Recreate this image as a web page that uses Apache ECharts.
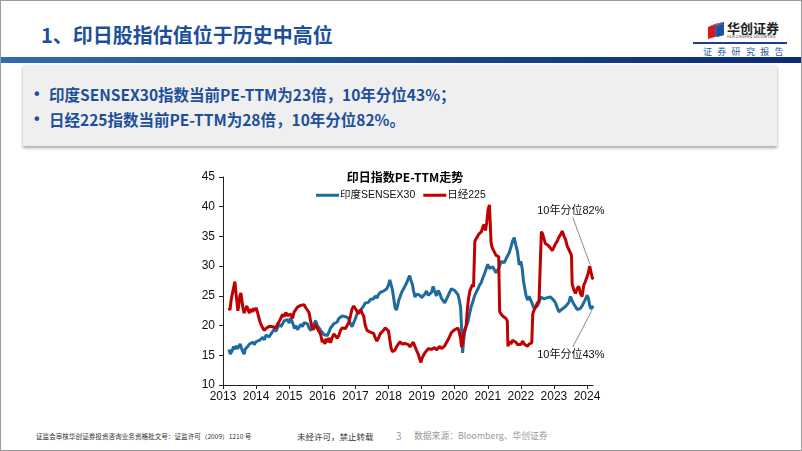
<!DOCTYPE html>
<html><head><meta charset="utf-8">
<script src="https://cdn.jsdelivr.net/npm/echarts@6/dist/echarts.min.js"></script>
<style>
body{margin:0;background:#fff;}
#slide{position:relative;width:802px;height:451px;overflow:hidden;background:#fff;font-family:"Noto Sans CJK SC","Noto Sans",sans-serif;}
.abs{position:absolute;white-space:nowrap;}
#title{left:41px;top:21px;font-size:20px;font-weight:bold;color:#1d4f9b;line-height:28px;}
#bar{left:0;top:57px;width:802px;height:6px;background:linear-gradient(90deg,#2f6db3 0%,#1a4b98 45%,#0c2a78 100%);}
#box{left:23px;top:65px;width:754px;height:81px;background:#efefef;box-shadow:0 2px 3px rgba(0,0,0,0.35);}
.bl{font-size:15.5px;font-weight:bold;color:#1d4f9b;line-height:20px;}
.dot{font-size:16px;color:#1d4f9b;font-weight:bold;line-height:20px;font-family:"Liberation Sans",Arial,sans-serif;}
#chart{position:absolute;left:0;top:0;width:802px;height:451px;}
#frame{position:absolute;left:0;top:0;width:800px;height:449px;border:1px solid #9a9a9a;pointer-events:none;}
.foot{color:#333;line-height:10px;}
</style></head>
<body>
<div id="slide">
  <div class="abs" id="title">1、印日股指估值位于历史中高位</div>
  <div class="abs" id="bar"></div>
  <div class="abs" id="box"></div>
  <div class="abs dot" style="left:34px;top:84px;">•</div>
  <div class="abs bl" style="left:49px;top:84px;">印度SENSEX30指数当前PE-TTM为23倍，10年分位43%；</div>
  <div class="abs dot" style="left:34px;top:109px;">•</div>
  <div class="abs bl" style="left:49px;top:109px;">日经225指数当前PE-TTM为28倍，10年分位82%。</div>
  <svg class="abs" style="left:706px;top:20px;" width="22" height="20" viewBox="0 0 22 20">
    <polygon points="2,7 9,4 9,17 2,19" fill="#d7191f"/>
    <polygon points="9,4 18,2 18,15 9,17" fill="#2a5fb0"/>
    <polygon points="2,7 9,4 18,2 11,5" fill="#e8454a"/>
    <polygon points="11,7 18,5 18,15 11,17" fill="#1d4f9b"/>
  </svg>
  <div class="abs" style="left:727px;top:21px;font-size:13px;font-weight:bold;color:#222;line-height:14px;">华创证券</div>
  <div class="abs" style="left:727px;top:34px;font-size:4px;color:#333;line-height:4px;">HUA CHUANG SECURITIES</div>
  <div class="abs" style="left:693px;top:42px;width:94px;height:2px;background:#1d3f8a;"></div>
  <div class="abs" style="left:703px;top:46px;font-size:9px;color:#2d5aa0;letter-spacing:5.3px;line-height:12px;">证券研究报告</div>
  <div class="abs foot" style="left:36px;top:431px;font-size:6.6px;">证监会审核华创证券投资咨询业务资格批文号：证监许可（2009）1210 号</div>
  <div class="abs foot" style="left:297px;top:431px;font-size:8.5px;">未经许可，禁止转载</div>
  <div class="abs" style="left:396px;top:430px;font-size:10px;color:#999;line-height:12px;">3</div>
  <div class="abs" style="left:414px;top:430px;font-size:8.8px;color:#999;line-height:12px;">数据来源：Bloomberg、华创证券</div>
  <div id="chart"></div>
  <div id="frame"></div>
</div>
<script>
// ---- data (decimal year, PE-TTM) ----
const yearTicks = [2013,2014,2015,2016,2017,2018,2019,2020,2021,2022,2023,2024];
const sensexT = [2013.18,2013.22,2013.25,2013.28,2013.32,2013.36,2013.40,2013.44,2013.48,2013.52,2013.56,2013.60,2013.64,2013.67,2013.71,2013.75,2013.80,2013.85,2013.90,2013.95,
2014.00,2014.05,2014.10,2014.15,2014.20,2014.25,2014.30,2014.35,2014.40,2014.45,2014.50,2014.55,2014.60,2014.65,2014.70,2014.75,2014.80,2014.85,2014.90,2014.95,
2015.00,2015.04,2015.08,2015.12,2015.16,2015.20,2015.25,2015.30,2015.35,2015.40,2015.45,2015.50,2015.55,2015.60,2015.65,2015.70,2015.75,2015.80,2015.85,2015.90,2015.95,
2016.00,2016.05,2016.10,2016.15,2016.20,2016.25,2016.30,2016.35,2016.40,2016.45,2016.50,2016.55,2016.60,2016.65,2016.70,2016.75,2016.80,2016.85,2016.90,2016.95,
2017.00,2017.05,2017.10,2017.15,2017.20,2017.25,2017.30,2017.35,2017.40,2017.45,2017.50,2017.55,2017.60,2017.65,2017.70,2017.75,2017.80,2017.85,2017.90,2017.95,
2018.00,2018.04,2018.08,2018.12,2018.16,2018.20,2018.24,2018.28,2018.32,2018.36,2018.40,2018.45,2018.50,2018.55,2018.60,2018.64,2018.68,2018.72,2018.76,2018.80,2018.85,2018.90,2018.95,
2019.00,2019.05,2019.10,2019.15,2019.20,2019.25,2019.30,2019.35,2019.40,2019.45,2019.50,2019.55,2019.60,2019.65,2019.70,2019.75,2019.80,2019.85,2019.90,2019.95,
2020.00,2020.05,2020.10,2020.14,2020.18,2020.21,2020.24,2020.27,2020.30,2020.35,2020.40,2020.45,2020.50,2020.55,2020.60,2020.65,2020.70,2020.75,2020.80,2020.85,2020.90,2020.95,
2021.00,2021.05,2021.10,2021.15,2021.20,2021.25,2021.30,2021.35,2021.40,2021.45,2021.50,2021.55,2021.60,2021.65,2021.70,2021.75,2021.80,2021.85,2021.90,2021.95,
2022.00,2022.04,2022.08,2022.12,2022.16,2022.20,2022.25,2022.30,2022.35,2022.40,2022.45,2022.50,2022.55,2022.60,2022.65,2022.70,2022.75,2022.80,2022.85,2022.90,2022.95,
2023.00,2023.05,2023.10,2023.15,2023.20,2023.25,2023.30,2023.35,2023.40,2023.45,2023.50,2023.55,2023.60,2023.65,2023.70,2023.75,2023.80,2023.85,2023.90,2023.95,
2024.00,2024.04,2024.08,2024.12,2024.16,2024.19];
const sensexV = [16.0,15.2,14.9,15.8,16.5,16.0,16.6,16.1,16.4,16.9,16.2,15.6,15.2,16.0,15.7,16.5,16.9,16.6,17.2,16.8,
17.3,17.0,17.5,17.2,18.0,17.6,18.4,18.7,18.1,18.6,19.0,19.4,19.0,19.7,20.2,19.8,20.3,20.8,20.5,21.0,
20.4,21.3,20.8,20.2,19.5,20.0,19.3,19.6,20.2,19.8,20.5,20.8,20.3,19.6,19.2,19.6,20.3,20.8,20.0,19.6,19.2,
19.0,18.5,18.8,18.3,18.9,19.6,19.8,20.3,20.0,20.6,21.2,21.0,21.6,21.9,21.5,21.8,21.2,20.3,19.8,20.5,
21.2,22.0,21.8,22.5,22.8,23.3,23.8,24.1,23.9,24.4,24.7,24.5,25.0,24.6,25.2,25.6,25.3,25.8,25.5,26.2,
26.8,27.7,26.9,26.0,24.5,23.0,22.6,23.5,24.4,25.0,25.6,26.1,26.3,27.2,27.9,28.4,27.6,27.0,25.8,24.8,25.3,25.6,25.1,
24.7,24.6,25.3,25.8,25.1,24.9,25.6,26.6,25.7,25.0,25.9,25.4,24.6,24.2,23.8,24.4,25.0,25.3,26.2,26.4,
25.9,26.1,25.2,24.3,23.0,19.5,15.4,17.5,18.8,20.0,20.6,22.0,23.2,24.0,25.0,25.6,26.1,26.8,27.2,28.0,28.7,29.5,
30.3,29.6,29.3,29.9,29.6,28.9,28.6,29.8,30.8,31.0,30.6,31.2,31.5,32.3,33.2,34.2,34.8,33.5,32.4,30.2,
30.8,29.6,27.5,26.2,25.0,24.3,24.9,24.6,23.6,22.9,22.6,23.3,23.9,24.8,25.0,24.5,24.2,24.7,24.4,24.8,24.9,
24.2,23.8,23.0,22.3,22.1,22.8,22.6,23.2,23.5,23.9,24.9,24.2,23.6,23.2,22.7,22.4,22.9,23.3,23.1,24.4,
25.1,24.6,23.4,22.8,23.1,23.3];
const nikkeiT = [2013.18,2013.21,2013.24,2013.27,2013.30,2013.33,2013.36,2013.39,2013.42,2013.45,2013.48,2013.51,2013.54,2013.57,2013.60,2013.64,2013.68,2013.72,2013.76,2013.80,2013.84,2013.88,2013.92,2013.96,
2014.00,2014.04,2014.08,2014.12,2014.16,2014.20,2014.24,2014.28,2014.32,2014.36,2014.40,2014.45,2014.50,2014.55,2014.60,2014.65,2014.70,2014.75,2014.80,2014.85,2014.90,2014.95,
2015.00,2015.05,2015.10,2015.15,2015.20,2015.25,2015.30,2015.35,2015.40,2015.45,2015.50,2015.55,2015.60,2015.64,2015.68,2015.72,2015.76,2015.80,2015.85,2015.90,2015.95,
2016.00,2016.04,2016.08,2016.12,2016.16,2016.20,2016.25,2016.30,2016.35,2016.40,2016.45,2016.50,2016.55,2016.60,2016.65,2016.70,2016.75,2016.80,2016.85,2016.90,2016.95,
2017.00,2017.05,2017.10,2017.15,2017.20,2017.25,2017.30,2017.35,2017.40,2017.45,2017.50,2017.55,2017.60,2017.65,2017.70,2017.75,2017.80,2017.85,2017.90,2017.95,
2018.00,2018.04,2018.08,2018.12,2018.16,2018.20,2018.25,2018.30,2018.35,2018.40,2018.45,2018.50,2018.55,2018.60,2018.65,2018.70,2018.75,2018.80,2018.85,2018.90,2018.94,2018.98,
2019.02,2019.06,2019.10,2019.15,2019.20,2019.25,2019.30,2019.35,2019.40,2019.45,2019.50,2019.55,2019.60,2019.65,2019.70,2019.75,2019.80,2019.85,2019.90,2019.95,
2020.00,2020.05,2020.10,2020.14,2020.18,2020.21,2020.24,2020.27,2020.31,2020.35,2020.38,2020.42,2020.46,2020.50,2020.54,2020.57,2020.59,2020.61,2020.65,2020.69,2020.73,2020.77,2020.81,2020.85,2020.89,2020.93,2020.97,
2021.01,2021.05,2021.08,2021.10,2021.13,2021.17,2021.21,2021.25,2021.29,2021.33,2021.36,2021.40,2021.45,2021.50,2021.55,2021.59,2021.61,2021.65,2021.70,2021.75,2021.80,2021.85,2021.90,2021.95,
2022.00,2022.05,2022.10,2022.15,2022.20,2022.25,2022.30,2022.33,2022.36,2022.40,2022.45,2022.50,2022.55,2022.60,2022.62,2022.66,2022.70,2022.74,2022.78,2022.82,2022.86,2022.90,2022.95,
2023.00,2023.05,2023.10,2023.15,2023.20,2023.25,2023.30,2023.35,2023.40,2023.45,2023.50,2023.53,2023.55,2023.60,2023.65,2023.70,2023.75,2023.80,2023.85,2023.90,2023.95,
2024.00,2024.04,2024.08,2024.12,2024.16,2024.19];
const nikkeiV = [23.0,22.6,24.0,25.0,25.8,26.6,27.4,25.6,24.0,22.5,23.6,25.0,25.5,24.3,23.0,22.1,22.8,23.3,22.6,22.1,22.8,22.3,22.9,22.5,
23.0,22.3,21.4,20.6,20.0,19.8,19.2,19.0,19.6,19.3,19.9,20.2,19.8,20.1,19.6,20.3,20.7,21.3,21.9,21.5,22.2,21.7,
21.4,21.9,21.2,22.3,22.7,23.1,22.8,23.4,23.1,23.5,23.0,23.3,22.2,21.0,19.9,19.3,19.7,20.2,19.5,19.2,18.5,
17.2,17.6,16.9,17.8,17.2,17.9,17.1,18.0,18.6,18.9,17.9,18.3,19.2,19.6,19.9,19.5,20.0,20.5,21.6,22.8,23.3,
23.5,22.4,22.0,22.7,22.4,21.6,20.0,19.2,19.0,18.9,19.2,18.7,17.9,17.4,17.9,18.6,18.8,19.2,19.6,19.8,
19.1,17.6,16.2,15.6,15.4,15.9,16.5,16.9,17.3,16.9,16.6,17.0,17.2,16.8,16.4,16.7,17.2,16.9,15.8,15.2,14.4,13.8,
14.6,15.0,15.4,15.7,16.1,15.8,16.0,15.9,16.3,15.9,16.2,16.5,16.1,16.3,16.6,16.9,17.6,18.2,18.8,19.1,
19.3,19.2,19.6,18.9,17.8,16.4,17.0,18.6,19.4,20.0,22.5,24.6,25.8,26.4,26.9,26.5,26.7,34.2,34.6,35.0,35.4,35.2,35.8,36.6,37.0,36.0,37.4,
39.5,40.3,40.6,34.0,33.2,32.7,32.9,31.8,32.0,31.6,22.3,22.0,21.6,21.8,21.2,20.8,16.5,17.3,16.9,17.5,17.8,17.2,16.8,17.1,
16.8,17.4,16.9,17.2,16.5,16.9,16.6,17.1,22.0,22.6,23.2,23.8,24.2,24.0,35.8,35.4,34.6,33.8,34.0,33.5,33.2,33.0,32.6,
33.2,33.8,34.2,34.9,35.3,35.9,35.1,34.5,33.4,32.8,32.2,31.8,27.0,26.0,25.4,26.2,26.6,25.4,24.9,26.8,27.4,
28.2,28.9,30.0,29.0,28.0,27.8];
const seriesNames = ['印度SENSEX30','日经225'];
const yMin = 10, yMax = 45, yStep = 5;
const xMin = 2013, xMax = 2024.18;

const zip = (t, v) => t.map((x, i) => [x, v[i]]);
const font = '"Liberation Sans", Arial, "Noto Sans CJK SC", sans-serif';
const cjk = '"Noto Sans CJK SC", "Liberation Sans", sans-serif';
const chart = echarts.init(document.getElementById('chart'), null, {renderer:'canvas'});
const axisCommon = {
  axisLine:{show:true,lineStyle:{color:'#222',width:1}},
  axisTick:{show:true,inside:false,length:4,lineStyle:{color:'#222'}},
  splitLine:{show:false},
  axisLabel:{color:'#111',fontSize:12,fontFamily:font}
};
chart.setOption({
  animation:false,
  backgroundColor:'transparent',
  title:{text:'印日指数PE-TTM走势',left:400,textAlign:'center',top:166,
    textStyle:{fontSize:12,fontWeight:'bold',color:'#000',fontFamily:cjk}},
  legend:{top:185,left:311,itemWidth:23,itemHeight:3,itemGap:8,icon:'rect',
    textStyle:{fontSize:10.5,color:'#111',fontFamily:font,padding:[0,0,0,-4]},
    data:seriesNames},
  grid:{left:223,right:209,top:177,bottom:66},
  xAxis:Object.assign({},axisCommon,{type:'value',min:xMin,max:xMax,
    axisLabel:Object.assign({},axisCommon.axisLabel,{customValues:yearTicks,margin:6,formatter:v=>String(Math.round(v))}),
    axisTick:Object.assign({},axisCommon.axisTick,{customValues:yearTicks})}),
  yAxis:Object.assign({},axisCommon,{type:'value',min:yMin,max:yMax,interval:yStep,
    axisLabel:Object.assign({},axisCommon.axisLabel,{margin:8})}),
  series:[
    {name:seriesNames[0],type:'line',data:zip(sensexT,sensexV),showSymbol:false,symbol:'none',
     lineStyle:{color:'#1f6a9e',width:3},itemStyle:{color:'#1f6a9e'},
     markLine:{silent:true,symbol:['none','none'],label:{show:false},lineStyle:{color:'#8a8a8a',width:1,type:'solid'},
       data:[[{coord:[2024.15,22.6]},{coord:[2023.57,16.4]}]]},
     markPoint:{silent:true,symbol:'rect',symbolSize:1,itemStyle:{color:'rgba(0,0,0,0)'},
       label:{show:true,position:'inside',formatter:'10年分位43%',color:'#111',fontSize:11,fontFamily:font},
       data:[{coord:[2023.51,15.0]}]}},
    {name:seriesNames[1],type:'line',data:zip(nikkeiT,nikkeiV),showSymbol:false,symbol:'none',
     lineStyle:{color:'#c00000',width:3},itemStyle:{color:'#c00000'},
     markLine:{silent:true,symbol:['none','none'],label:{show:false},lineStyle:{color:'#8a8a8a',width:1,type:'solid'},
       data:[[{coord:[2023.57,38.2]},{coord:[2024.09,30.3]}]]},
     markPoint:{silent:true,symbol:'rect',symbolSize:1,itemStyle:{color:'rgba(0,0,0,0)'},
       label:{show:true,position:'inside',formatter:'10年分位82%',color:'#111',fontSize:11,fontFamily:font},
       data:[{coord:[2023.51,39.3]}]}}
  ]
});
</script>
</body></html>
